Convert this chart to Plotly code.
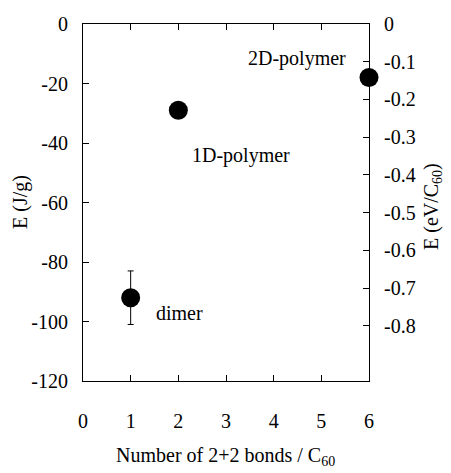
import plotly.graph_objects as go

bonds = [1, 2, 6]
energy_jg = [-92, -29, -18]
err_jg = [9, 0, 0]
labels = ["dimer", "1D-polymer", "2D-polymer"]
x_ticks = [0, 1, 2, 3, 4, 5, 6]
left_ticks = [0, -20, -40, -60, -80, -100, -120]
right_ticks = [0, -0.1, -0.2, -0.3, -0.4, -0.5, -0.6, -0.7, -0.8]
right_tick_text = ["0", "-0.1", "-0.2", "-0.3", "-0.4", "-0.5", "-0.6", "-0.7", "-0.8"]

FONT = "Liberation Serif"
fs = 20

fig = go.Figure()
fig.add_trace(go.Scatter(
    x=bonds, y=energy_jg, mode="markers", cliponaxis=False,
    marker=dict(size=19, color="black"),
    error_y=dict(type="data", array=err_jg, visible=True, color="black",
                 thickness=1, width=3),
    showlegend=False,
))
fig.add_trace(go.Scatter(x=[None], y=[None], yaxis="y2", showlegend=False))

def axis_common():
    return dict(showline=True, linecolor="black", linewidth=1,
                ticks="inside", ticklen=6, tickcolor="black", tickwidth=1,
                showgrid=False, zeroline=False, automargin=False,
                tickfont=dict(family=FONT, size=fs, color="black"))

fig.update_layout(
    width=451, height=473,
    margin=dict(l=83, r=82, t=24, b=92),
    plot_bgcolor="white", paper_bgcolor="white",
    font=dict(family=FONT, size=fs, color="black"),
    xaxis=dict(range=[0, 6], tickvals=x_ticks, ticktext=[str(v) for v in x_ticks],
               mirror="ticks", ticklabelstandoff=22, **axis_common()),
    yaxis=dict(range=[-120, 0], tickvals=left_ticks,
               ticktext=[str(v) for v in left_ticks],
               ticklabelstandoff=10, **axis_common()),
    yaxis2=dict(range=[-0.946, 0], tickvals=right_ticks, ticktext=right_tick_text,
                overlaying="y", side="right", ticklabelstandoff=10,
                **axis_common()),
)

def ann(text, px, py, angle=0):
    pw = 451 - 83 - 82
    ph = 473 - 24 - 92
    return dict(text=text, x=(px - 83) / pw, y=1 - (py - 24) / ph,
                xref="paper", yref="paper", xanchor="center", yanchor="middle",
                showarrow=False, textangle=angle,
                font=dict(family=FONT, size=fs, color="black"))

fig.update_layout(annotations=[
    ann(labels[2], 297, 58),
    ann(labels[1], 241, 155),
    ann(labels[0], 179, 313),
    ann("E (J/g)", 20, 202, -90),
    ann("E (eV/C<sub>60</sub>)", 433, 207, -90),
    ann("Number of 2+2 bonds / C<sub>60</sub>", 225, 457),
])

fig.write_html("out.html", config={"displayModeBar": False},
               post_script="document.body.style.margin='0';document.body.style.padding='0';")
